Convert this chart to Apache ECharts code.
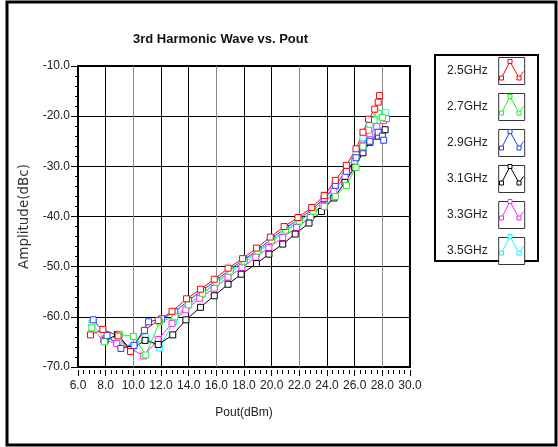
<!DOCTYPE html>
<html>
<head>
<meta charset="utf-8">
<script src="https://cdn.jsdelivr.net/npm/echarts@6/dist/echarts.min.js"></script>
<style>
	html, body { margin: 0; padding: 0; background: #fff; }
	#chart { width: 558px; height: 447px; }
</style>
</head>
<body>
<div id="chart"></div>
<script>
//   legend names
var names = ['2.5GHz', '2.7GHz', '2.9GHz', '3.1GHz', '3.3GHz', '3.5GHz'];
var colors = ['#ff0000', '#22ee22', '#1f3cff', '#000000', '#ff22ff', '#22f0f0'];

//   2.5GHz
var pout25 = [6.9, 7.8, 8.9, 9.8, 10.8, 11.8, 12.8, 13.85, 14.85, 15.85, 16.85, 17.9, 18.9, 19.9, 20.9, 21.9, 22.9, 23.8, 24.6, 25.4, 26.1, 26.6, 27.0, 27.45, 27.7, 27.8];
var amp25 = [-63.6, -62.5, -63.8, -66.9, -62.7, -60.7, -58.9, -56.4, -54.5, -52.5, -50.3, -48.4, -46.3, -44.1, -42.0, -40.2, -38.2, -35.8, -32.8, -29.8, -26.5, -23.2, -20.6, -18.6, -17.2, -15.9];
//   2.7GHz
var pout27 = [7.0, 7.9, 9.0, 10.0, 10.9, 11.9, 13.0, 14.0, 15.0, 16.0, 17.0, 18.0, 19.0, 20.0, 21.0, 22.0, 23.0, 23.8, 24.6, 25.4, 26.1, 26.6, 27.0, 27.4, 27.7, 28.0];
var amp27 = [-62.2, -65.0, -63.5, -63.9, -67.6, -61.0, -60.0, -57.6, -55.3, -53.1, -50.9, -48.9, -46.9, -44.8, -42.7, -40.9, -39.0, -38.0, -36.0, -33.8, -30.2, -26.0, -22.8, -20.8, -19.4, -20.3];
//   2.9GHz
var pout29 = [7.1, 8.1, 9.1, 10.05, 11.1, 12.05, 13.0, 14.0, 15.0, 16.0, 17.0, 18.0, 19.0, 20.0, 21.0, 22.0, 22.9, 23.8, 24.6, 25.4, 26.1, 26.6, 27.1, 27.7, 28.0, 28.1];
var amp29 = [-60.6, -63.7, -66.3, -65.7, -61.0, -60.4, -59.0, -56.7, -54.7, -52.7, -50.5, -48.6, -46.6, -44.4, -42.3, -40.5, -38.6, -36.4, -33.8, -31.0, -28.3, -26.3, -25.0, -23.2, -24.0, -24.8];
//   3.1GHz
var pout31 = [7.95, 8.85, 9.8, 10.85, 11.8, 12.85, 13.8, 14.85, 15.85, 16.85, 17.8, 18.9, 19.8, 20.8, 21.7, 22.7, 23.6, 24.5, 25.3, 26.0, 26.6, 27.1, 27.7, 28.0, 28.2];
var amp31 = [-64.8, -63.5, -66.5, -64.7, -65.5, -63.6, -60.6, -58.1, -55.8, -53.5, -51.5, -49.4, -47.5, -45.5, -43.5, -41.3, -39.0, -36.3, -33.2, -30.2, -27.3, -25.2, -24.0, -23.3, -22.7];
//   3.3GHz
var pout33 = [7.85, 8.8, 9.8, 10.75, 11.8, 12.8, 13.8, 14.8, 15.85, 16.85, 17.85, 18.85, 19.8, 20.8, 21.8, 22.8, 23.7, 24.5, 25.3, 26.0, 26.6, 27.1, 27.6, 28.1, 28.3];
var amp33 = [-64.6, -65.3, -66.3, -67.8, -64.5, -61.3, -58.6, -56.3, -54.3, -52.1, -50.2, -48.1, -46.2, -44.2, -42.2, -40.2, -37.8, -35.0, -32.0, -29.0, -25.8, -23.5, -22.1, -20.9, -20.5];
//   3.5GHz
var pout35 = [7.0, 7.9, 8.9, 9.9, 10.9, 11.9, 12.9, 13.9, 14.9, 15.9, 16.9, 17.9, 18.9, 19.9, 20.9, 21.9, 22.85, 23.8, 24.6, 25.4, 26.1, 26.6, 27.1, 27.6, 28.1, 28.25];
var amp35 = [-61.3, -64.3, -64.9, -66.0, -64.0, -66.2, -61.0, -57.8, -55.6, -53.6, -51.4, -49.5, -47.4, -45.2, -43.1, -41.3, -39.2, -36.8, -33.9, -30.6, -27.2, -24.3, -21.8, -19.9, -20.1, -19.3];

var pouts = [pout25, pout27, pout29, pout31, pout33, pout35];
var amps = [amp25, amp27, amp29, amp31, amp33, amp35];

var chart = echarts.init(document.getElementById('chart'), null, { renderer: 'canvas' });

var makeSeries = function (i) {
	var data = [];
	for (var k = 0; k < pouts[i].length; k++) {
		data.push([pouts[i][k], amps[i][k]]);
	}
	return {
		name: names[i],
		type: 'line',
		data: data,
		symbol: 'rect',
		symbolSize: 6,
		lineStyle: { color: colors[i], width: 1 },
		itemStyle: { color: '#fff', borderColor: colors[i], borderWidth: 1 }
	};
};

//   draw red on top, so go backwards
var series = [];
for (var i = names.length - 1; i >= 0; i--) {
	series.push(makeSeries(i));
}

//   outer frame, legend box + little glyph in each icon
var graphics = [
	{ type: 'rect', shape: { x: 7, y: 2, width: 549, height: 443 }, style: { fill: 'none', stroke: '#000', lineWidth: 3 }, silent: true },
	{ type: 'rect', shape: { x: 435, y: 55, width: 103, height: 206 }, style: { fill: 'none', stroke: '#000', lineWidth: 2 }, silent: true }
];
for (var j = 0; j < names.length; j++) {
	var x0 = 499, y0 = 57 + 35 * j;
	var pts = [[x0 + 2.5, y0 + 21], [x0 + 11, y0 + 4.5], [x0 + 20, y0 + 21], [x0 + 24.5, y0 + 14.5]];
	graphics.push({ type: 'polyline', shape: { points: pts }, style: { fill: 'none', stroke: colors[j], lineWidth: 1 }, z: 110 });
	for (var p = 0; p < 3; p++) {
		graphics.push({
			type: 'rect',
			shape: { x: pts[p][0] - 2, y: pts[p][1] - 2, width: 4, height: 4 },
			style: { fill: '#fff', stroke: colors[j], lineWidth: 1 },
			z: 111
		});
	}
}

var option = {
	animation: false,
	backgroundColor: '#fff',
	title: {
		text: '3rd Harmonic Wave vs. Pout',
		left: 133,
		top: 33,
		padding: 0,
		textStyle: { fontFamily: 'Liberation Sans', fontSize: 13, fontWeight: 'bold', color: '#111' }
	},
	legend: {
		data: names,
		orient: 'vertical',
		left: 447,
		top: 57,
		padding: 0,
		align: 'right',
		icon: 'rect',
		itemWidth: 26,
		itemHeight: 27,
		itemGap: 8,
		selectedMode: false,
		itemStyle: { color: '#fff', borderColor: '#333', borderWidth: 1 },
		textStyle: { fontFamily: 'Liberation Sans', fontSize: 12, color: '#222', padding: [0, 6, 0, 0] }
	},
	grid: {
		left: 78,
		top: 66,
		right: 148,
		bottom: 80,
		show: true,
		borderColor: '#000',
		borderWidth: 2
	},
	xAxis: {
		type: 'value',
		min: 6,
		max: 30,
		interval: 2,
		offset: 3,
		name: 'Pout(dBm)',
		nameLocation: 'middle',
		nameGap: 37,
		nameTextStyle: { fontFamily: 'Liberation Sans', fontSize: 12, color: '#222' },
		axisLine: { show: false },
		axisTick: { show: true, length: 6, lineStyle: { color: '#000' } },
		minorTick: { show: true, splitNumber: 5, length: 4, lineStyle: { color: '#000' } },
		axisLabel: {
			margin: 10,
			fontFamily: 'Liberation Sans',
			fontSize: 12,
			color: '#222',
			formatter: function (v) { return v.toFixed(1); }
		},
		splitLine: { show: true, lineStyle: { color: ['#000', '#000', '#888'], width: 1 } }
	},
	yAxis: {
		type: 'value',
		min: -70,
		max: -10,
		interval: 10,
		name: 'Amplitude(dBc)',
		nameLocation: 'middle',
		nameRotate: 90,
		nameGap: 39,
		nameTextStyle: { fontFamily: 'DejaVu Sans', fontSize: 13.5, color: '#333' },
		axisLine: { show: false },
		axisTick: { show: true, length: 7, lineStyle: { color: '#000' } },
		minorTick: { show: true, splitNumber: 5, length: 3, lineStyle: { color: '#000' } },
		axisLabel: {
			margin: 8,
			fontFamily: 'Liberation Sans',
			fontSize: 12,
			color: '#222',
			formatter: function (v) { return v.toFixed(1); }
		},
		splitLine: { show: true, lineStyle: { color: '#000', width: 1 } }
	},
	graphic: graphics,
	series: series
};

chart.setOption(option);
</script>
</body>
</html>
